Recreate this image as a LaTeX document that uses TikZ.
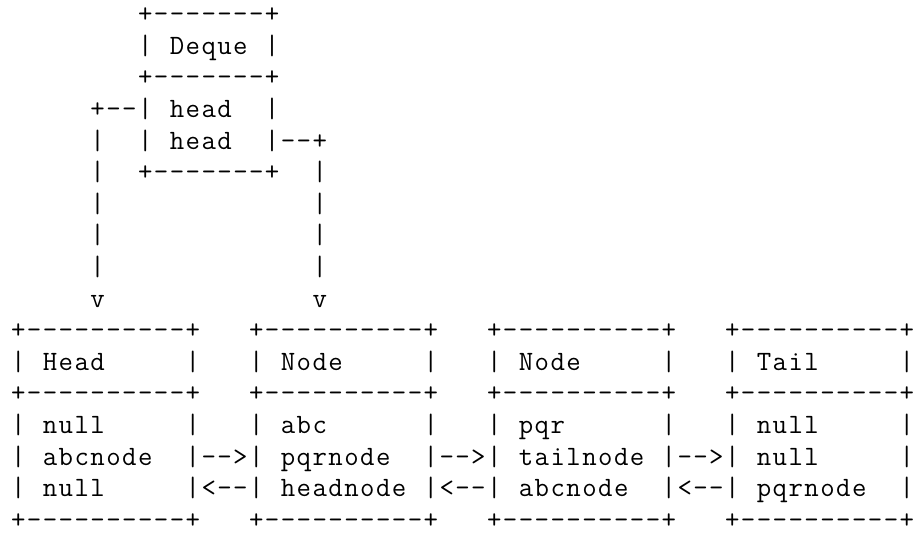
\documentclass[tikz,border=0pt]{standalone}
% every character sits centred in a fixed 11.9pt cell, like a terminal grid
\newlength\asciicell
\setlength\asciicell{11.9pt}
\makeatletter
\newcommand\asciirow[1]{%
  \@tfor\asc@ch:=#1\do{\makebox[\asciicell][c]{\asc@ch}}}
\makeatother
\tikzset{
  asciiline/.style={anchor=base west, inner sep=0pt, outer sep=0pt,
    font=\ttfamily\fontsize{21pt}{24pt}\selectfont, text=black}
}
\begin{document}
\begin{tikzpicture}[x=0.75pt, y=-0.75pt]
  \fill[white] (0,0) rectangle (915,533);
  \useasboundingbox (0,0) rectangle (915,533);
  \def\rowy#1{22.7+(#1-1)*31.6}
  \node[asciiline] (l1)  at (10.4,{\rowy{1}})  {\asciirow{~~~~~~~~+-------+}};
  \node[asciiline] (l2)  at (10.4,{\rowy{2}})  {\asciirow{~~~~~~~~|~Deque~|}};
  \node[asciiline] (l3)  at (10.4,{\rowy{3}})  {\asciirow{~~~~~~~~+-------+}};
  \node[asciiline] (l4)  at (10.4,{\rowy{4}})  {\asciirow{~~~~~+--|~head~~|}};
  \node[asciiline] (l5)  at (10.4,{\rowy{5}})  {\asciirow{~~~~~|~~|~head~~|--+}};
  \node[asciiline] (l6)  at (10.4,{\rowy{6}})  {\asciirow{~~~~~|~~+-------+~~|}};
  \node[asciiline] (l7)  at (10.4,{\rowy{7}})  {\asciirow{~~~~~|~~~~~~~~~~~~~|}};
  \node[asciiline] (l8)  at (10.4,{\rowy{8}})  {\asciirow{~~~~~|~~~~~~~~~~~~~|}};
  \node[asciiline] (l9)  at (10.4,{\rowy{9}})  {\asciirow{~~~~~|~~~~~~~~~~~~~|}};
  \node[asciiline] (l10) at (10.4,{\rowy{10}}) {\asciirow{~~~~~v~~~~~~~~~~~~~v}};
  \node[asciiline] (l11) at (10.4,{\rowy{11}}) {\asciirow{+----------+~~~+----------+~~~+----------+~~~+----------+}};
  \node[asciiline] (l12) at (10.4,{\rowy{12}}) {\asciirow{|~Head~~~~~|~~~|~Node~~~~~|~~~|~Node~~~~~|~~~|~Tail~~~~~|}};
  \node[asciiline] (l13) at (10.4,{\rowy{13}}) {\asciirow{+----------+~~~+----------+~~~+----------+~~~+----------+}};
  \node[asciiline] (l14) at (10.4,{\rowy{14}}) {\asciirow{|~null~~~~~|~~~|~abc~~~~~~|~~~|~pqr~~~~~~|~~~|~null~~~~~|}};
  \node[asciiline] (l15) at (10.4,{\rowy{15}}) {\asciirow{|~abcnode~~|-->|~pqrnode~~|-->|~tailnode~|-->|~null~~~~~|}};
  \node[asciiline] (l16) at (10.4,{\rowy{16}}) {\asciirow{|~null~~~~~|<--|~headnode~|<--|~abcnode~~|<--|~pqrnode~~|}};
  \node[asciiline] (l17) at (10.4,{\rowy{17}}) {\asciirow{+----------+~~~+----------+~~~+----------+~~~+----------+}};
\end{tikzpicture}
\end{document}
